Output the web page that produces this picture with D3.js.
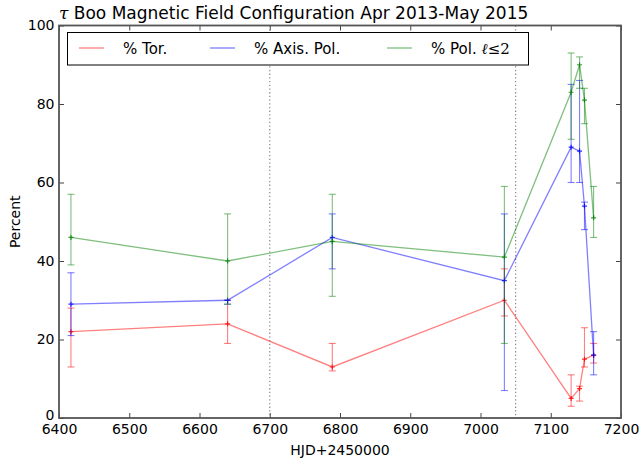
<!DOCTYPE html>
<html>
<head>
<meta charset="utf-8">
<script src="https://cdn.jsdelivr.net/npm/d3@7"></script>
<style>
  html, body { margin: 0; padding: 0; background: #fff; }
  svg { display: block; font-family: "DejaVu Sans", sans-serif; }
</style>
</head>
<body>
<svg id="chart" width="639" height="462"></svg>
<script>
// ---- data ----
const hjd = [6417, 6640, 6789, 7034, 7129, 7141, 7148, 7161];
const torVal = [22, 24, 13, 30, 5, 7.5, 15, 16];
const torLo  = [13, 19, 12, 26, 3, 4.3, 13, 14];
const torHi  = [28, 30, 19, 38, 11, 8.1, 23, 19];
const axisVal = [29, 30, 46, 35, 69, 68, 54, 16];
const axisLo  = [21, 29, 38, 7, 60, 60, 48, 11];
const axisHi  = [37, 30, 52, 52, 85, 86, 55, 22];
const polVal = [46, 40, 45, 41, 83, 90, 81, 51];
const polLo  = [39, 29, 31, 19, 71, 84, 75, 46];
const polHi  = [57, 52, 57, 59, 93, 92, 84, 59];
const xTicks = [6400, 6500, 6600, 6700, 6800, 6900, 7000, 7100, 7200];
const yTicks = [0, 20, 40, 60, 80, 100];
const vLines = [6700, 7050];
const seriesNames = ["% Tor.", "% Axis. Pol.", "% Pol. "];
const seriesColors = ["#ff0000", "#0000ff", "#008000"];

const series = [
  {name: seriesNames[0], color: seriesColors[0], v: torVal, lo: torLo, hi: torHi},
  {name: seriesNames[1], color: seriesColors[1], v: axisVal, lo: axisLo, hi: axisHi},
  {name: seriesNames[2], color: seriesColors[2], v: polVal, lo: polLo, hi: polHi}
];

const L = 59, R = 621, T = 25.5, B = 418;
const svg = d3.select("#chart");
const x = d3.scaleLinear().domain([6400, 7200]).range([L, R]);
const y = d3.scaleLinear().domain([0, 100]).range([B, T]);

// axes
const fs = "14px";
const gB = svg.append("g").attr("transform", `translate(0,${B})`)
  .call(d3.axisBottom(x).tickValues(xTicks).tickFormat(d3.format("d")).tickSize(-5).tickPadding(6));
const gT = svg.append("g").attr("transform", `translate(0,${T})`)
  .call(d3.axisTop(x).tickValues(xTicks).tickFormat("").tickSize(-5));
const gL = svg.append("g").attr("transform", `translate(${L},0)`)
  .call(d3.axisLeft(y).tickValues(yTicks).tickFormat(d3.format("d")).tickSize(-5).tickPadding(4.5));
const gR = svg.append("g").attr("transform", `translate(${R},0)`)
  .call(d3.axisRight(y).tickValues(yTicks).tickFormat("").tickSize(-5));
[gB, gT, gL, gR].forEach(g => {
  g.select(".domain").remove();
  g.selectAll(".tick line").attr("stroke", "#444").attr("stroke-width", 1);
  g.selectAll(".tick text").attr("fill", "#000").style("font-size", fs).style("font-family", "DejaVu Sans");
});
// the "0" label sits slightly raised in the reference
gL.selectAll(".tick text").filter(d => d === 0).attr("y", -3);

// dotted vertical lines
svg.append("g").selectAll("line").data(vLines).join("line")
  .attr("x1", d => x(d)).attr("x2", d => x(d))
  .attr("y1", T).attr("y2", B)
  .attr("stroke", "#888").attr("stroke-width", 1.2)
  .attr("stroke-dasharray", "1.3,2.4");

// series
const line = d3.line().x(d => x(d[0])).y(d => y(d[1]));
series.forEach(s => {
  const g = svg.append("g");
  const pts = hjd.map((h, i) => [h, s.v[i], s.lo[i], s.hi[i]]);
  // error bars
  g.selectAll("line.eb").data(pts).join("line").attr("class", "eb")
    .attr("x1", d => x(d[0])).attr("x2", d => x(d[0]))
    .attr("y1", d => y(d[2])).attr("y2", d => y(d[3]))
    .attr("stroke", s.color).attr("stroke-opacity", 0.5).attr("stroke-width", 1.1);
  g.selectAll("line.capl").data(pts).join("line").attr("class", "capl")
    .attr("x1", d => x(d[0]) - 3.5).attr("x2", d => x(d[0]) + 3.5)
    .attr("y1", d => y(d[2])).attr("y2", d => y(d[2]))
    .attr("stroke", s.color).attr("stroke-opacity", 0.5).attr("stroke-width", 1.1);
  g.selectAll("line.caph").data(pts).join("line").attr("class", "caph")
    .attr("x1", d => x(d[0]) - 3.5).attr("x2", d => x(d[0]) + 3.5)
    .attr("y1", d => y(d[3])).attr("y2", d => y(d[3]))
    .attr("stroke", s.color).attr("stroke-opacity", 0.5).attr("stroke-width", 1.1);
  // connecting line
  g.append("path").datum(pts).attr("d", line)
    .attr("fill", "none").attr("stroke", s.color).attr("stroke-opacity", 0.5)
    .attr("stroke-width", 1.3);
  // plus markers
  g.selectAll("path.mk").data(pts).join("path").attr("class", "mk")
    .attr("d", d => `M${x(d[0]) - 2.5},${y(d[1])}h5M${x(d[0])},${y(d[1]) - 2.5}v5`)
    .attr("stroke", s.color).attr("stroke-opacity", 0.8).attr("stroke-width", 1.2);
});

// frame
svg.append("rect").attr("x", L).attr("y", T).attr("width", R - L).attr("height", B - T)
  .attr("fill", "none").attr("stroke", "#555").attr("stroke-width", 1.8);

// title
const title = svg.append("text").attr("x", 59).attr("y", 19)
  .style("font-size", "17px").attr("fill", "#000");
title.append("tspan").style("font-family", "DejaVu Serif").style("font-style", "italic").text("τ");
title.append("tspan").text(" Boo Magnetic Field Configuration Apr 2013-May 2015");

// axis labels
svg.append("text").attr("x", (L + R) / 2).attr("y", 455).attr("text-anchor", "middle")
  .style("font-size", "14px").text("HJD+2450000");
svg.append("text").attr("transform", `translate(19.5,${(T + B) / 2}) rotate(-90)`)
  .attr("text-anchor", "middle").style("font-size", "14px").text("Percent");

// legend
const leg = svg.append("g");
leg.append("rect").attr("x", 67.5).attr("y", 32.5).attr("width", 461).attr("height", 32.5)
  .attr("fill", "#fff").attr("stroke", "#000").attr("stroke-width", 1);
const legX = [79, 210, 387];
series.forEach((s, i) => {
  leg.append("line").attr("x1", legX[i]).attr("x2", legX[i] + 25).attr("y1", 48).attr("y2", 48)
    .attr("stroke", s.color).attr("stroke-opacity", 0.5).attr("stroke-width", 1.3);
  const t = leg.append("text").attr("x", legX[i] + 44).attr("y", 54)
    .style("font-size", "15px").attr("fill", "#000").text(s.name);
  if (i === 2) {
    t.append("tspan").style("font-family", "DejaVu Serif").style("font-style", "italic").text("ℓ");
    t.append("tspan").style("font-family", "DejaVu Serif").text("≤2");
  }
});
</script>
</body>
</html>
